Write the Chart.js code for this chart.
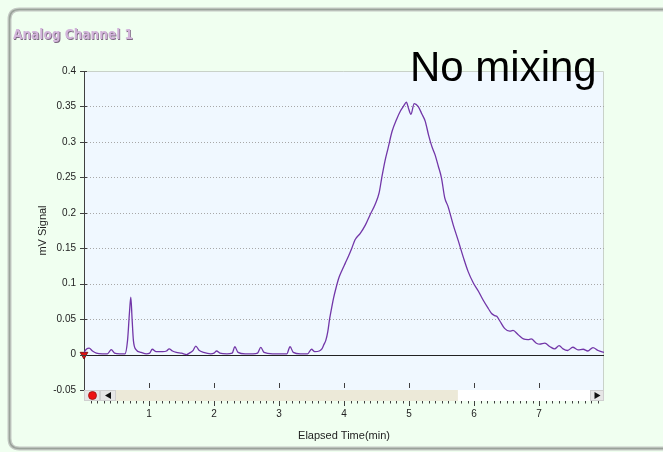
<!DOCTYPE html>
<html><head><meta charset="utf-8">
<script src="https://cdn.jsdelivr.net/npm/chart.js@4.4.1/dist/chart.umd.min.js"></script>
<style>html,body{margin:0;padding:0;background:#f0fff0;overflow:hidden}canvas{display:block}</style>
</head><body>
<canvas id="c" width="663" height="452"></canvas>
<script>
const chartTitle = 'Analog Channel 1';
const annotationText = 'No mixing';
const xAxisTitle = 'Elapsed Time(min)';
const yAxisTitle = 'mV Signal';
const xTickLabels = ['1', '2', '3', '4', '5', '6', '7'];
const yTickLabels = ['-0.05', '0', '0.05', '0.1', '0.15', '0.2', '0.25', '0.3', '0.35', '0.4'];

const elapsedMin = [
  0, 0.04, 0.08, 0.13, 0.19, 0.28, 0.36, 0.42, 0.47, 0.55, 0.63, 0.67, 0.70, 0.72, 0.74, 0.76, 0.80, 0.88, 0.96,
  1.01, 1.05, 1.11, 1.21, 1.27, 1.31, 1.36, 1.42, 1.50, 1.58, 1.62, 1.68, 1.72, 1.77, 1.84, 1.95,
  2.00, 2.04, 2.09, 2.20, 2.28, 2.32, 2.37, 2.48, 2.60, 2.67, 2.72, 2.77, 2.90,
  3.05, 3.12, 3.17, 3.22, 3.33, 3.44, 3.50, 3.55, 3.62, 3.66, 3.69, 3.72, 3.75, 3.78, 3.81, 3.84, 3.88, 3.92, 3.97,
  4.02, 4.07, 4.12, 4.17, 4.25, 4.33, 4.40, 4.48, 4.54, 4.58, 4.63, 4.68, 4.74, 4.81, 4.87, 4.92, 4.96, 4.99,
  5.03, 5.08, 5.14, 5.20, 5.25, 5.30, 5.35, 5.40, 5.45, 5.50, 5.55, 5.60, 5.68, 5.76, 5.84, 5.91, 5.99,
  6.07, 6.14, 6.22, 6.27, 6.32, 6.35, 6.40, 6.47, 6.55, 6.60, 6.68, 6.76, 6.83, 6.88, 6.96,
  7.01, 7.09, 7.17, 7.24, 7.31, 7.37, 7.44, 7.52, 7.60, 7.68, 7.75, 7.83, 7.91, 8.0
];
const signalMV = [
  0.003, 0.008, 0.009, 0.005, 0.002, 0.001, 0.001, 0.007, 0.002, 0.001, 0.001, 0.020, 0.060, 0.081, 0.050, 0.020, 0.007, 0.003, 0.001,
  0.002, 0.0075, 0.004, 0.004, 0.005, 0.008, 0.005, 0.003, 0.002, 0.000, 0.002, 0.006, 0.012, 0.006, 0.003, 0.001,
  0.002, 0.005, 0.002, 0.001, 0.002, 0.011, 0.003, 0.001, 0.001, 0.002, 0.010, 0.003, 0.001,
  0.001, 0.001, 0.011, 0.003, 0.001, 0.001, 0.0075, 0.004, 0.005, 0.008, 0.014, 0.020, 0.032, 0.051, 0.066, 0.080, 0.095, 0.108, 0.119,
  0.129, 0.139, 0.150, 0.162, 0.171, 0.183, 0.197, 0.212, 0.228, 0.249, 0.273, 0.292, 0.315, 0.332, 0.344, 0.351, 0.356, 0.348,
  0.339, 0.354, 0.350, 0.339, 0.329, 0.310, 0.294, 0.282, 0.266, 0.249, 0.221, 0.209, 0.183, 0.160, 0.136, 0.117, 0.101,
  0.089, 0.077, 0.065, 0.058, 0.055, 0.054, 0.047, 0.037, 0.033, 0.034, 0.028, 0.022, 0.021, 0.022, 0.016,
  0.0146, 0.016, 0.011, 0.008, 0.0127, 0.008, 0.0057, 0.0103, 0.0066, 0.0075, 0.005, 0.0099, 0.0057, 0.003
];
const markerTime = [0];
const markerValue = [0];

function rrect(ctx, x, y, w, h, r) {
  ctx.beginPath();
  ctx.moveTo(x + r, y);
  ctx.lineTo(x + w - r, y); ctx.quadraticCurveTo(x + w, y, x + w, y + r);
  ctx.lineTo(x + w, y + h - r); ctx.quadraticCurveTo(x + w, y + h, x + w - r, y + h);
  ctx.lineTo(x + r, y + h); ctx.quadraticCurveTo(x, y + h, x, y + h - r);
  ctx.lineTo(x, y + r); ctx.quadraticCurveTo(x, y, x + r, y);
  ctx.closePath();
}

const deco = {
  id: 'deco',
  beforeDraw(chart) {
    const { ctx, chartArea: a } = chart;
    ctx.save();
    ctx.fillStyle = '#f0fff0';
    ctx.fillRect(0, 0, chart.width, chart.height);
    // panel frame
    rrect(ctx, 9.5, 9.5, 720, 439, 10);
    ctx.strokeStyle = '#c4cac4'; ctx.lineWidth = 4; ctx.stroke();
    rrect(ctx, 9.5, 9.5, 720, 439, 10);
    ctx.strokeStyle = '#9aa29a'; ctx.lineWidth = 1.5; ctx.stroke();
    // title
    ctx.font = 'bold 15px "DejaVu Sans Condensed", "DejaVu Sans"';
    const w = ctx.measureText(chartTitle).width;
    ctx.save();
    ctx.translate(13, 39);
    ctx.scale(120 / w, 0.93);
    ctx.fillStyle = '#7d6a82';
    ctx.fillText(chartTitle, 0.9, 0.9);
    ctx.fillStyle = '#d2b4da';
    ctx.fillText(chartTitle, 0, 0);
    ctx.restore();
    // plot background
    ctx.fillStyle = '#f0f8ff';
    ctx.fillRect(a.left, a.top, a.right - a.left, a.bottom - a.top);
    ctx.strokeStyle = '#c9d2c9'; ctx.lineWidth = 1;
    ctx.beginPath();
    ctx.moveTo(a.left, a.top + 0.5); ctx.lineTo(a.right - 0.5, a.top + 0.5); ctx.lineTo(a.right - 0.5, a.bottom);
    ctx.stroke();
    ctx.restore();
  },
  beforeDatasetsDraw(chart) {
    const { ctx, chartArea: a, scales: { y } } = chart;
    ctx.save();
    y.ticks.forEach(t => {
      const py = Math.round(y.getPixelForValue(t.value)) + 0.5;
      if (Math.abs(t.value) < 1e-9) {
        ctx.setLineDash([]); ctx.strokeStyle = '#222'; ctx.lineWidth = 1;
      } else if (t.value > y.min + 1e-9 && t.value < y.max - 1e-9) {
        ctx.setLineDash([1, 2]); ctx.strokeStyle = '#a8a8a8'; ctx.lineWidth = 1;
      } else return;
      ctx.beginPath(); ctx.moveTo(a.left, py); ctx.lineTo(a.right, py); ctx.stroke();
    });
    ctx.restore();
  },
  afterDraw(chart) {
    const { ctx, chartArea: a, scales: { x, y } } = chart;
    ctx.save();
    ctx.strokeStyle = '#404040'; ctx.lineWidth = 1;
    // y tick marks
    y.ticks.forEach(t => {
      const py = Math.round(y.getPixelForValue(t.value)) + 0.5;
      ctx.beginPath(); ctx.moveTo(a.left - 4, py); ctx.lineTo(a.left + 3, py); ctx.stroke();
    });
    // scrollbar
    const st = a.bottom, sh = 11;
    const L = a.left, R = a.right;
    ctx.fillStyle = '#ffffff'; ctx.fillRect(L, st, R - L, sh);
    const thumbEnd = L + (R - L) * 0.719;
    ctx.fillStyle = '#ece9d8'; ctx.fillRect(L + 32, st, thumbEnd - L - 32, sh);
    ctx.fillStyle = '#e6e6e6';
    ctx.fillRect(L, st, 16, sh); ctx.fillRect(L + 16, st, 16, sh); ctx.fillRect(R - 14, st, 14, sh);
    ctx.strokeStyle = '#cfcfcf';
    ctx.strokeRect(L + 0.5, st + 0.5, 15, sh - 1); ctx.strokeRect(L + 16.5, st + 0.5, 15, sh - 1); ctx.strokeRect(R - 13.5, st + 0.5, 13, sh - 1);
    // red dot
    ctx.beginPath(); ctx.arc(L + 8.5, st + 5.5, 4, 0, Math.PI * 2);
    ctx.fillStyle = '#ee1111'; ctx.fill(); ctx.strokeStyle = '#991111'; ctx.lineWidth = 0.8; ctx.stroke();
    // arrows
    ctx.fillStyle = '#111';
    ctx.beginPath(); ctx.moveTo(L + 21, st + 5.5); ctx.lineTo(L + 27, st + 2); ctx.lineTo(L + 27, st + 9); ctx.closePath(); ctx.fill();
    ctx.beginPath(); ctx.moveTo(R - 3.5, st + 5.5); ctx.lineTo(R - 9.5, st + 2); ctx.lineTo(R - 9.5, st + 9); ctx.closePath(); ctx.fill();
    // x tick marks
    ctx.strokeStyle = '#404040'; ctx.lineWidth = 1;
    for (let i = 1; i < 80; i++) {
      const v = i / 10;
      const px = Math.round(x.getPixelForValue(v)) + 0.5;
      const major = i % 10 === 0;
      ctx.beginPath();
      ctx.moveTo(px, st + sh); ctx.lineTo(px, st + sh + (major ? 5 : 2.5)); ctx.stroke();
      if (major) { ctx.beginPath(); ctx.moveTo(px, st - 7); ctx.lineTo(px, st - 2); ctx.stroke(); }
    }
    // annotation
    ctx.fillStyle = '#000';
    ctx.font = '42px "Liberation Sans", Arial, sans-serif';
    ctx.textBaseline = 'alphabetic';
    ctx.fillText(annotationText, 410, 81);
    ctx.restore();
  }
};

const fmt = v => { const r = Math.round(v * 100) / 100; return String(r); };

new Chart(document.getElementById('c'), {
  type: 'line',
  data: {
    datasets: [
      {
        data: elapsedMin.map((t, i) => ({ x: t, y: signalMV[i] })),
        borderColor: '#7236a8', borderWidth: 1.3, pointRadius: 0, fill: false,
        tension: 0.3, cubicInterpolationMode: 'monotone'
      },
      {
        data: markerTime.map((t, i) => ({ x: t, y: markerValue[i] })),
        showLine: false, pointStyle: 'triangle', rotation: 180, pointRadius: 4.5,
        backgroundColor: '#e01010', borderColor: '#700000', borderWidth: 0.8, clip: false
      }
    ]
  },
  options: {
    responsive: false, animation: false, devicePixelRatio: 1,
    layout: { padding: { left: 0, top: 71, right: 59, bottom: 0 } },
    plugins: { legend: { display: false }, tooltip: { enabled: false } },
    scales: {
      x: {
        type: 'linear', min: 0, max: 8,
        afterFit: s => { s.height = 62; },
        grid: { display: false, drawTicks: false },
        border: { display: false },
        ticks: {
          stepSize: 1, padding: 18, color: '#222',
          font: { family: '"Liberation Sans", Arial', size: 10 },
          callback: v => xTickLabels.includes(String(v)) ? String(v) : ''
        },
        title: { display: true, text: xAxisTitle, color: '#222', padding: { top: 0, bottom: 9 },
          font: { family: '"Liberation Sans", Arial', size: 11 } }
      },
      y: {
        min: -0.05, max: 0.4,
        afterFit: s => { s.width = 84; },
        grid: { display: false, drawTicks: false },
        border: { display: true, color: '#404040', width: 1 },
        ticks: {
          stepSize: 0.05, padding: 8, color: '#222',
          font: { family: '"Liberation Sans", Arial', size: 10 },
          callback: v => { const s = fmt(v); return yTickLabels.includes(s) ? s : ''; }
        },
        title: { display: true, text: yAxisTitle, color: '#222', padding: { top: 36, bottom: 0 },
          font: { family: '"Liberation Sans", Arial', size: 11 } }
      }
    }
  },
  plugins: [deco]
});
</script>
</body></html>
